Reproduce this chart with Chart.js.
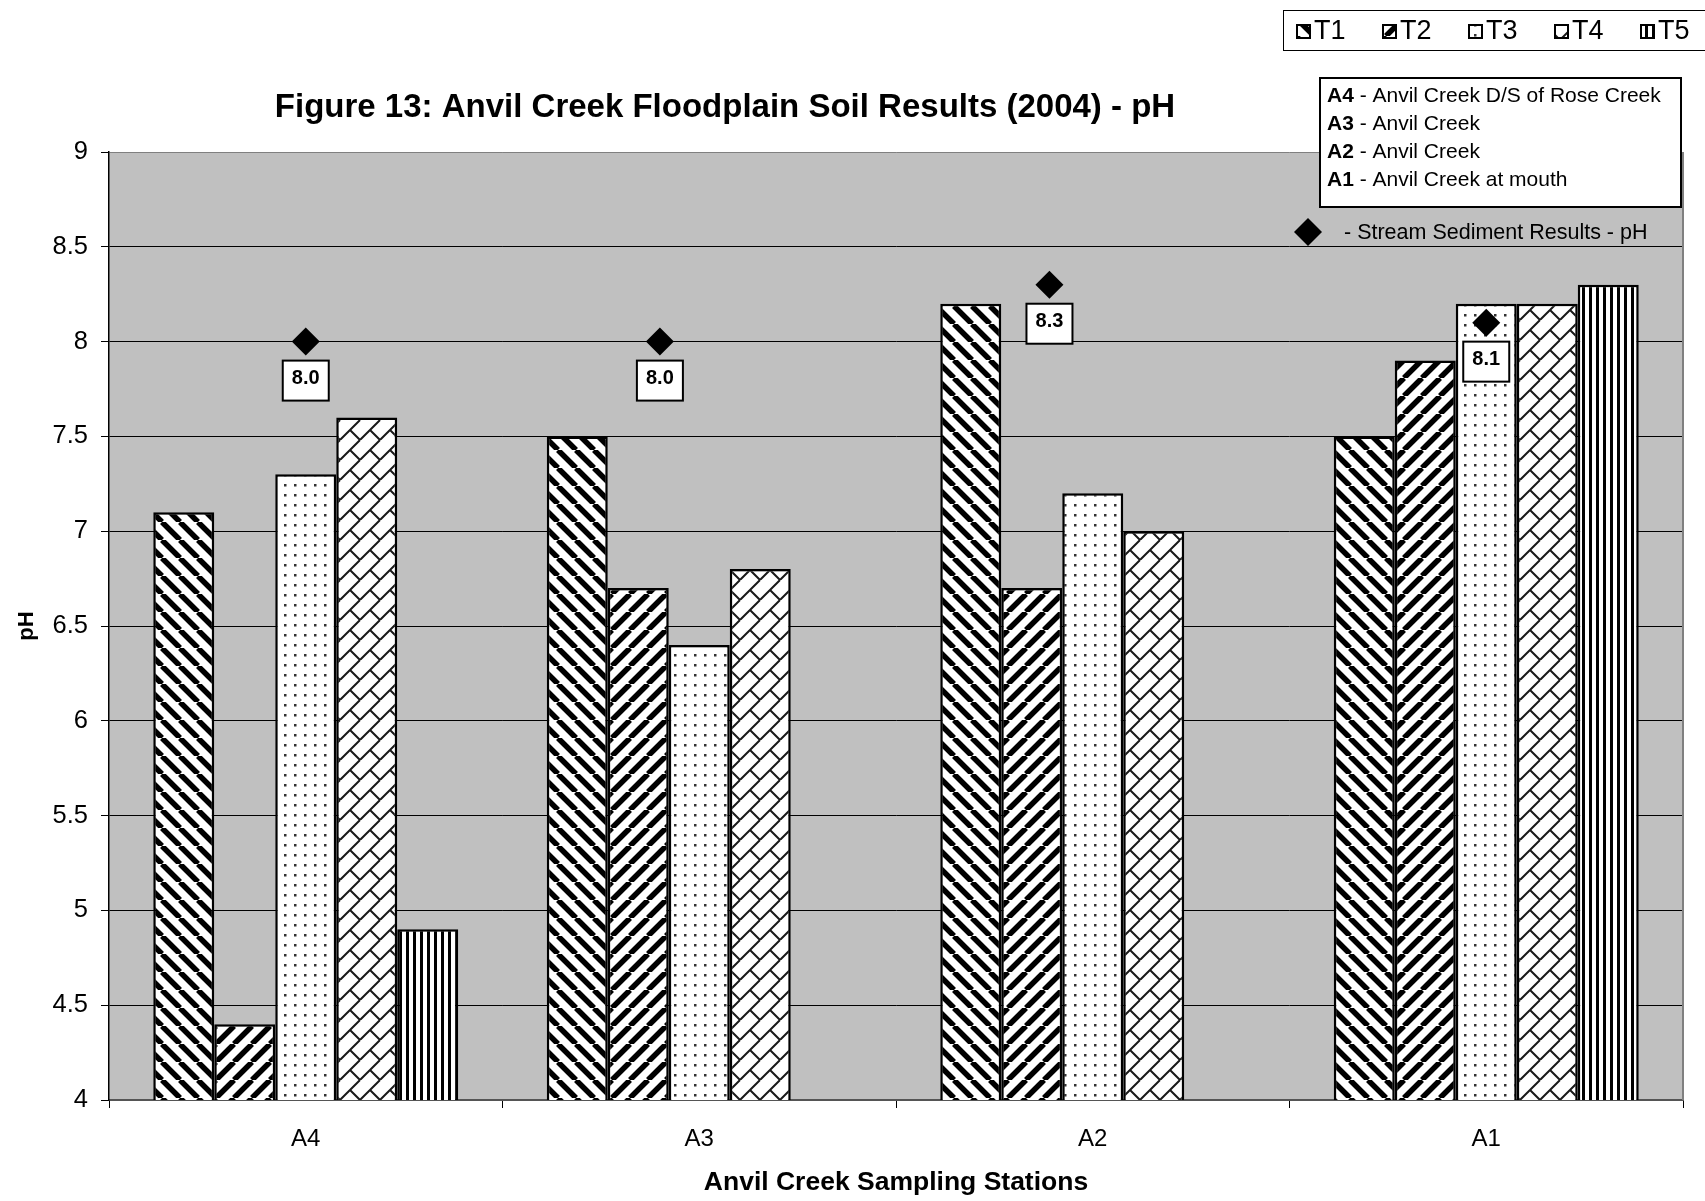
<!DOCTYPE html>
<html>
<head>
<meta charset="utf-8">
<script src="https://cdn.jsdelivr.net/npm/chart.js@4.4.0/dist/chart.umd.min.js"></script>
<style>
  html, body { margin: 0; padding: 0; background: #fff; }
  #contenedor { width: 1705px; height: 1201px; }
</style>
</head>
<body>
<div id="contenedor"><canvas id="grafico" width="1705" height="1201"></canvas></div>
<script>
// Datos
const estaciones = ['A4', 'A3', 'A2', 'A1'];
const series = ['T1', 'T2', 'T3', 'T4', 'T5'];
const valoresT1 = [7.1, 7.5, 8.2, 7.5];
const valoresT2 = [4.4, 6.7, 6.7, 7.9];
const valoresT3 = [7.3, 6.4, 7.2, 8.2];
const valoresT4 = [7.6, 6.8, 7.0, 8.2];
const valoresT5 = [4.9, null, null, 8.3];
const sedimento = [8.0, 8.0, 8.3, 8.1];           // resultados de sedimento (rombos)
const sedimentoPos = [0.0, 0.9, 1.89, 3.0];        // posición del rombo en unidades de categoría
const sedimentoTexto = ['8.0', '8.0', '8.3', '8.1'];
const descripciones = ['Anvil Creek D/S of Rose Creek', 'Anvil Creek', 'Anvil Creek', 'Anvil Creek at mouth'];
const yMin = 4, yMax = 9, yPaso = 0.5;

const fuente = '"Liberation Sans", Arial, Helvetica, sans-serif';

// Crea un patrón de relleno tipo Excel
function crearPatron(tipo) {
  const c = document.createElement('canvas');
  const g = c.getContext('2d');
  let s = 18;
  if (tipo === 'puntos') s = 10;
  if (tipo === 'vertical') s = 7;
  if (tipo === 'ladrillo') s = 20;
  c.width = s; c.height = s;
  g.fillStyle = '#fff';
  g.fillRect(0, 0, s, s);
  g.strokeStyle = '#000';
  g.fillStyle = '#000';
  if (tipo === 'bajada') { // líneas \\\
    g.lineWidth = 5.5;
    g.beginPath();
    for (let k = -1; k <= 1; k++) { g.moveTo(k * s, 0); g.lineTo(k * s + s, s); }
    g.stroke();
  } else if (tipo === 'subida') { // líneas ///
    g.lineWidth = 5.5;
    g.beginPath();
    for (let k = -1; k <= 1; k++) { g.moveTo(k * s, s); g.lineTo(k * s + s, 0); }
    g.stroke();
  } else if (tipo === 'puntos') {
    g.fillStyle = '#333';
    g.fillRect(4, 4, 2.5, 2.5);
  } else if (tipo === 'ladrillo') { // ladrillo diagonal
    g.lineWidth = 2;
    g.strokeStyle = '#1a1a1a';
    g.beginPath();
    for (let k = -1; k <= 1; k++) { g.moveTo(k * s, s); g.lineTo(k * s + s, 0); }
    g.moveTo(s / 2, s / 2); g.lineTo(s, s);
    g.moveTo(-s / 2, -s / 2); g.lineTo(0, 0);
    g.stroke();
  } else if (tipo === 'vertical') {
    g.fillRect(0, 0, 3, s);
  }
  return g.createPattern(c, 'repeat');
}

const ctx = document.getElementById('grafico').getContext('2d');
const patrones = [
  crearPatron('bajada'),
  crearPatron('subida'),
  crearPatron('puntos'),
  crearPatron('ladrillo'),
  crearPatron('vertical')
];
const valores = [valoresT1, valoresT2, valoresT3, valoresT4, valoresT5];

// Dibuja el fondo gris, el título, las leyendas y las etiquetas de los rombos
const decorado = {
  id: 'decorado',
  beforeDraw(chart) {
    const { ctx, chartArea: a } = chart;
    ctx.save();
    ctx.fillStyle = '#fff';
    ctx.fillRect(0, 0, chart.width, chart.height);
    ctx.fillStyle = '#c0c0c0';
    ctx.fillRect(a.left, a.top, a.right - a.left, a.bottom - a.top);
    ctx.restore();
  },
  beforeDatasetsDraw(chart) {
    const { ctx, chartArea: a } = chart;
    ctx.save();
    ctx.strokeStyle = '#808080';
    ctx.lineWidth = 2;
    ctx.beginPath();
    ctx.moveTo(a.right, a.top);
    ctx.lineTo(a.right, a.bottom);
    ctx.stroke();
    ctx.restore();
  },
  afterDatasetsDraw(chart) {
    const { ctx } = chart;
    const meta = chart.getDatasetMeta(5);
    ctx.save();
    meta.data.forEach((p, i) => {
      const w = 46, h = 40;
      const x = p.x - w / 2, y = p.y + 19;
      ctx.fillStyle = '#fff';
      ctx.fillRect(x, y, w, h);
      ctx.strokeStyle = '#000';
      ctx.lineWidth = 2;
      ctx.strokeRect(x, y, w, h);
      ctx.fillStyle = '#000';
      ctx.font = 'bold 20px ' + fuente;
      ctx.textAlign = 'center';
      ctx.textBaseline = 'middle';
      ctx.fillText(sedimentoTexto[i], p.x, y + h / 2 - 2);
    });
    ctx.restore();
  },
  afterDraw(chart) {
    const { ctx } = chart;
    ctx.save();
    // título
    ctx.fillStyle = '#000';
    ctx.font = 'bold 33px ' + fuente;
    ctx.textAlign = 'center';
    ctx.textBaseline = 'middle';
    ctx.fillText('Figure 13: Anvil Creek Floodplain Soil Results (2004) - pH', 725, 108);

    // leyenda de series (arriba a la derecha)
    ctx.fillStyle = '#fff';
    ctx.fillRect(1283, 10, 440, 40);
    ctx.strokeStyle = '#000';
    ctx.lineWidth = 1;
    ctx.strokeRect(1283.5, 10.5, 440, 40);
    ctx.font = '27px ' + fuente;
    ctx.textAlign = 'left';
    series.forEach((nombre, i) => {
      const x = 1297 + i * 86;
      ctx.fillStyle = patrones[i];
      ctx.fillRect(x, 25, 13, 13);
      ctx.strokeStyle = '#000';
      ctx.lineWidth = 2;
      ctx.strokeRect(x, 25, 13, 13);
      ctx.fillStyle = '#000';
      ctx.fillText(nombre, x + 17, 32);
    });

    // cuadro de estaciones
    ctx.fillStyle = '#fff';
    ctx.fillRect(1320, 78, 361, 129);
    ctx.strokeStyle = '#000';
    ctx.lineWidth = 2;
    ctx.strokeRect(1320, 78, 361, 129);
    ctx.fillStyle = '#000';
    estaciones.forEach((est, i) => {
      const y = 96 + i * 28.2;
      ctx.font = 'bold 21px ' + fuente;
      ctx.fillText(est, 1327, y);
      const w = ctx.measureText(est).width;
      ctx.font = '21px ' + fuente;
      ctx.fillText(' - ' + descripciones[i], 1327 + w, y);
    });

    // leyenda del sedimento
    ctx.beginPath();
    ctx.moveTo(1308, 218); ctx.lineTo(1322, 232); ctx.lineTo(1308, 246); ctx.lineTo(1294, 232);
    ctx.closePath();
    ctx.fill();
    ctx.font = '21.5px ' + fuente;
    ctx.fillText('- Stream Sediment Results - pH', 1344, 233);
    ctx.restore();
  }
};

// Barras: el eje x es lineal (índice de estación) para que los rombos puedan ir desplazados
const datasets = series.map((nombre, i) => ({
  label: nombre,
  data: valores[i].map((v, j) => ({ x: j, y: v })),
  backgroundColor: patrones[i],
  borderColor: '#000',
  borderWidth: 2.5,
  xAxisID: 'x',
  yAxisID: 'y'
}));

datasets.push({
  type: 'scatter',
  label: 'Stream Sediment Results - pH',
  data: sedimento.map((v, i) => ({ x: sedimentoPos[i], y: v })),
  xAxisID: 'x',
  yAxisID: 'y',
  pointStyle: 'rectRot',
  pointRadius: 14,
  pointHoverRadius: 14,
  backgroundColor: '#000',
  borderColor: '#000',
  borderWidth: 0,
  order: -1
});

new Chart(ctx, {
  type: 'bar',
  data: { datasets: datasets },
  options: {
    responsive: false,
    animation: false,
    events: [],
    categoryPercentage: 0.775,
    barPercentage: 1,
    layout: { padding: { left: 0, top: 152, right: 22, bottom: 0 } },
    plugins: {
      legend: { display: false },
      title: { display: false },
      tooltip: { enabled: false }
    },
    scales: {
      x: {
        type: 'linear',
        offset: false,
        min: -0.5,
        max: estaciones.length - 0.5,
        afterFit: (s) => { s.height = 101; },
        afterBuildTicks: (s) => { s.ticks = estaciones.map((e, i) => ({ value: i })); },
        grid: { offset: true, drawOnChartArea: false, tickLength: 8, color: '#000', lineWidth: 1 },
        border: { color: '#555', width: 2 },
        ticks: { color: '#000', padding: 17, autoSkip: false, maxRotation: 0,
                 font: { family: fuente, size: 24 }, callback: (v) => estaciones[v] },
        title: { display: true, text: 'Anvil Creek Sampling Stations', color: '#000',
                 font: { family: fuente, size: 26.5, weight: 'bold' }, padding: { top: 2, bottom: 2 } }
      },
      y: {
        type: 'linear',
        min: yMin,
        max: yMax,
        afterFit: (s) => { s.width = 109; },
        ticks: { stepSize: yPaso, color: '#000', padding: 13,
                 font: { family: fuente, size: 25.5 }, callback: (v) => v.toString() },
        grid: {
          color: (c) => (c.tick && c.tick.value === yMax ? '#808080' : '#000'),
          tickColor: '#000',
          lineWidth: 1,
          tickLength: 8
        },
        border: { color: '#000', width: 1.5 },
        title: { display: true, text: 'pH', color: '#000',
                 font: { family: fuente, size: 22, weight: 'bold' }, padding: { top: 14, bottom: 0 } }
      }
    }
  },
  plugins: [decorado]
});
</script>
</body>
</html>
